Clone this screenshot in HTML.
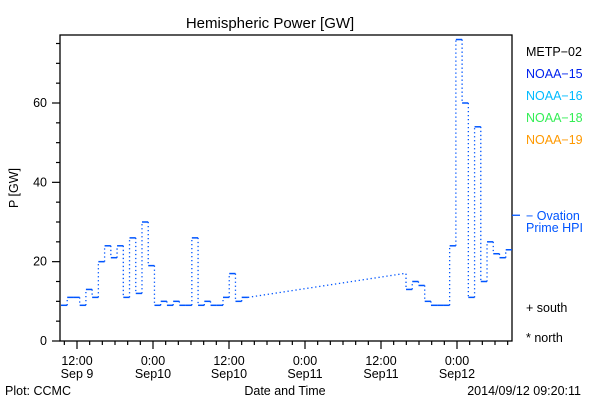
<!DOCTYPE html>
<html><head><meta charset="utf-8"><style>
body{margin:0;background:#fff}
svg{display:block;font-family:"Liberation Sans",sans-serif;font-size:12.5px}
</style></head><body>
<svg id="c" width="600" height="400" viewBox="0 0 600 400">
<rect width="600" height="400" fill="#fff"/>
<text x="270" y="28" text-anchor="middle" font-size="15">Hemispheric Power [GW]</text>
<rect x="60" y="35" width="452" height="306" fill="none" stroke="#000" stroke-width="1.3"/>
<g id="axes"></g>
<g id="series"></g>
<text transform="translate(18,188) rotate(-90)" text-anchor="middle">P [GW]</text>
<text x="285" y="395" text-anchor="middle">Date and Time</text>
<text x="5" y="395">Plot: CCMC</text>
<text x="581" y="395" text-anchor="end">2014/09/12 09:20:11</text>
<g>
<text x="526" y="56" fill="#000">METP−02</text>
<text x="526" y="78" fill="#0022ee">NOAA−15</text>
<text x="526" y="100" fill="#00bbff">NOAA−16</text>
<text x="526" y="122" fill="#33ee55">NOAA−18</text>
<text x="526" y="144" fill="#ff9900">NOAA−19</text>
<text x="526" y="220" fill="#0055ff">− Ovation</text>
<text x="526" y="232" fill="#0055ff">Prime HPI</text>
<text x="526" y="312" fill="#000">+ south</text>
<text x="526" y="342" fill="#000">* north</text>
</g>
</svg>
<script>
const yTicks=[0,20,40,60];
const xTickHours=[12,24,36,48,60,72];
const xTickLine1=["12:00","0:00","12:00","0:00","12:00","0:00"];
const xTickLine2=["Sep 9","Sep10","Sep10","Sep11","Sep11","Sep12"];
const group1Start=9.47;
const group1Values=[9,11,11,9,13,11,20,24,21,24,11,26,12,30,19,9,10,9,10,9,9,26,9,10,9,9,11,17,10,11];
const group2Start=63.95;
const group2Values=[13,15,14,10,9,9,9,24,76,60,11,54,15,25,22,21,23];
const stepHours=0.984;
const bridgeHour=63.6, bridgeValue=17;
const ovationValue=31.7;

const NS="http://www.w3.org/2000/svg";
const X=h=>77+(h-12)*76/12;
const Y=v=>341-v*(238/60);
function mk(tag,attrs,parent){const e=document.createElementNS(NS,tag);for(const k in attrs)e.setAttribute(k,attrs[k]);parent.appendChild(e);return e;}
const axes=document.getElementById('axes'), ser=document.getElementById('series');
for(let v=0;v<=75;v+=5){
  const major=v%20===0;
  const t=mk('line',{x1:major?52:56,x2:60,y1:Y(v),y2:Y(v),stroke:'#000','stroke-width':1.2},axes);
  
  
}
yTicks.forEach(v=>{
  const t=mk('text',{x:47,y:Y(v)+4,'text-anchor':'end'},axes);t.textContent=v;
  
  
});
for(let h=10;X(h)<512;h+=2){
  if(X(h)<60)continue;
  const major=h%12===0;
  const t=mk('line',{x1:X(h),x2:X(h),y1:341,y2:major?349:345,stroke:'#000','stroke-width':1.2},axes);
  
  
}
xTickHours.forEach((h,i)=>{
  const a=mk('text',{x:X(h),y:365,'text-anchor':'middle'},axes);a.textContent=xTickLine1[i];
  
  
  const b=mk('text',{x:X(h),y:378,'text-anchor':'middle'},axes);b.textContent=xTickLine2[i];
  
  
});
const col='#0055ff';
const pts=[];
group1Values.forEach((v,i)=>pts.push({h0:group1Start+i*stepHours,v}));
const g2=[];
group2Values.forEach((v,i)=>g2.push({h0:group2Start+i*stepHours,v}));
function drawGroup(arr,name){
  arr.forEach((p,i)=>{
    const x0=X(p.h0),x1=X(p.h0+stepHours);
    const s=mk('line',{x1:x0,x2:x1,y1:Y(p.v),y2:Y(p.v),stroke:col,'stroke-width':1.5},ser);
    
    
    if(i<arr.length-1){
      const d=mk('line',{x1:x1,x2:x1,y1:Y(p.v),y2:Y(arr[i+1].v),stroke:col,'stroke-width':1.3,'stroke-dasharray':'1.3 2.7'},ser);
      
      
    }
  });
}
drawGroup(pts,'power');
drawGroup(g2,'power');
const last=pts[pts.length-1];
const br=mk('polyline',{points:`${X(last.h0+stepHours)},${Y(last.v)} ${X(bridgeHour)},${Y(bridgeValue)} ${X(group2Start)},${Y(bridgeValue)} ${X(group2Start)},${Y(g2[0].v)}`,fill:'none',stroke:col,'stroke-width':1.3,'stroke-dasharray':'1.3 2.7'},ser);


const ov=mk('line',{x1:512,x2:520,y1:Y(ovationValue),y2:Y(ovationValue),stroke:col,'stroke-width':1.3},ser);


</script>
</body></html>
